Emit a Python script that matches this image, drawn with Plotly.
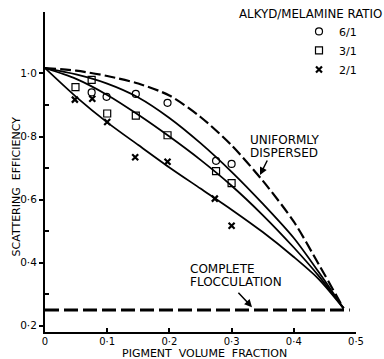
import plotly.graph_objects as go

# ---- data ----
x_grid = [0, 0.05, 0.10, 0.15, 0.20, 0.25, 0.30, 0.35, 0.40, 0.44, 0.48]
uniform_y = [1.017, 1.009, 0.992, 0.968, 0.93, 0.862, 0.772, 0.66, 0.53, 0.395, 0.255]
curve_61_y = [1.017, 0.997, 0.968, 0.924, 0.859, 0.779, 0.688, 0.587, 0.478, 0.37, 0.255]
curve_31_y = [1.017, 0.983, 0.932, 0.869, 0.800, 0.726, 0.644, 0.551, 0.448, 0.358, 0.255]
curve_21_y = [1.017, 0.926, 0.845, 0.773, 0.702, 0.635, 0.568, 0.497, 0.418, 0.348, 0.255]

floc_x = [0, 0.49]
floc_y = [0.25, 0.25]

pts_61_x = [0.075, 0.099, 0.146, 0.197, 0.275, 0.30]
pts_61_y = [0.94, 0.926, 0.935, 0.907, 0.723, 0.713]
pts_31_x = [0.049, 0.075, 0.10, 0.146, 0.197, 0.275, 0.30]
pts_31_y = [0.957, 0.98, 0.873, 0.866, 0.804, 0.69, 0.652]
pts_21_x = [0.048, 0.076, 0.10, 0.145, 0.197, 0.273, 0.30]
pts_21_y = [0.917, 0.92, 0.846, 0.734, 0.72, 0.603, 0.517]

x_ticks = [0, 0.1, 0.2, 0.3, 0.4, 0.5]
x_labels = ["0", "0·1", "0·2", "0·3", "0·4", "0·5"]
y_ticks = [0.2, 0.4, 0.6, 0.8, 1.0]
y_labels = ["0·2", "0·4", "0·6", "0·8", "1·0"]
y_minor = [0.3, 0.5, 0.7, 0.9]

# ---- figure ----
W, H = 384, 359
L, R, T, B = 45, 28, 12, 25
PW, PH = W - L - R, H - T - B


def px_x(p):
    return (p - L) / PW


def px_y(p):
    return (H - B - p) / PH


fig = go.Figure()
fig.add_trace(go.Scatter(x=floc_x, y=floc_y, mode="lines",
                         line=dict(color="black", width=3, dash="14px,5px"),
                         showlegend=False, hoverinfo="skip"))
fig.add_trace(go.Scatter(x=x_grid, y=uniform_y, mode="lines",
                         line=dict(color="black", width=2.2, dash="11px,4px",
                                   shape="spline", smoothing=0.8),
                         showlegend=False, hoverinfo="skip"))
for ys in (curve_61_y, curve_31_y, curve_21_y):
    fig.add_trace(go.Scatter(x=x_grid, y=ys, mode="lines",
                             line=dict(color="black", width=1.8, shape="spline", smoothing=0.8),
                             showlegend=False, hoverinfo="skip"))

fig.add_trace(go.Scatter(x=pts_61_x, y=pts_61_y, mode="markers", name="6/1",
                         marker=dict(symbol="circle-open", size=7, color="black",
                                     line=dict(width=1.2, color="black"))))
fig.add_trace(go.Scatter(x=pts_31_x, y=pts_31_y, mode="markers", name="3/1",
                         marker=dict(symbol="square-open", size=7, color="black",
                                     line=dict(width=1.2, color="black"))))
fig.add_trace(go.Scatter(x=pts_21_x, y=pts_21_y, mode="markers", name="2/1",
                         marker=dict(symbol="x-thin-open", size=6, color="black",
                                     line=dict(width=2.2, color="black"))))

fig.update_layout(
    width=W, height=H,
    margin=dict(l=L, r=R, t=T, b=B, pad=0),
    paper_bgcolor="white", plot_bgcolor="white",
    font=dict(family="DejaVu Sans", color="black", size=11),
    showlegend=True,
    legend=dict(x=px_x(299), y=px_y(17), xanchor="left", yanchor="top",
                bgcolor="rgba(0,0,0,0)", font=dict(size=11), itemwidth=30,
                tracegroupgap=0),
    xaxis=dict(range=[0, 0.5], tickmode="array", tickvals=x_ticks, ticktext=x_labels,
               ticks="inside", ticklen=4, tickwidth=1.5, tickcolor="black",
               ticklabelstandoff=-1,
               showline=True, linewidth=2, linecolor="black",
               showgrid=False, zeroline=False, tickfont=dict(size=10)),
    yaxis=dict(range=[0.18, 1.195], tickmode="array", tickvals=y_ticks, ticktext=y_labels,
               ticks="outside", ticklen=4, tickwidth=1.5, tickcolor="black",
               showline=True, linewidth=2, linecolor="black",
               showgrid=False, zeroline=False, tickfont=dict(size=10.5),
               minor=dict(tickmode="array", tickvals=y_minor, ticks="inside", ticklen=4,
                          tickwidth=1.5, tickcolor="black", showgrid=False)),
)

ann = []
ann.append(dict(text="ALKYD/MELAMINE RATIO", xref="paper", yref="paper",
                x=px_x(384), y=px_y(14.5), xanchor="right", yanchor="middle",
                showarrow=False, font=dict(size=11.8)))
ann.append(dict(text="PIGMENT  VOLUME  FRACTION", xref="paper", yref="paper",
                x=px_x(204), y=px_y(356), xanchor="center", yanchor="middle",
                showarrow=False, font=dict(size=11)))
ann.append(dict(text="SCATTERING  EFFICIENCY", xref="paper", yref="paper",
                x=px_x(16.5), y=px_y(188), xanchor="center", yanchor="middle",
                textangle=-90, showarrow=False, font=dict(size=11)))
ann.append(dict(text="UNIFORMLY", xref="paper", yref="paper",
                x=px_x(248), y=px_y(140.5), xanchor="left", yanchor="middle",
                showarrow=False, font=dict(size=12)))
ann.append(dict(text="DISPERSED", xref="paper", yref="paper",
                x=px_x(248), y=px_y(153.5), xanchor="left", yanchor="middle",
                showarrow=False, font=dict(size=12)))
ann.append(dict(text="COMPLETE", xref="paper", yref="paper",
                x=px_x(188), y=px_y(270.5), xanchor="left", yanchor="middle",
                showarrow=False, font=dict(size=12)))
ann.append(dict(text="FLOCCULATION", xref="paper", yref="paper",
                x=px_x(188), y=px_y(283.5), xanchor="left", yanchor="middle",
                showarrow=False, font=dict(size=12)))
# arrows
ann.append(dict(text="", xref="paper", yref="paper", x=px_x(260), y=px_y(176),
                ax=8, ay=-16, axref="pixel", ayref="pixel", showarrow=True,
                arrowhead=2, arrowsize=1, arrowwidth=1.5, arrowcolor="black"))
ann.append(dict(text="", xref="paper", yref="paper", x=px_x(252), y=px_y(309),
                ax=-15, ay=-16, axref="pixel", ayref="pixel", showarrow=True,
                arrowhead=2, arrowsize=1, arrowwidth=1.5, arrowcolor="black"))
fig.update_layout(annotations=ann)

fig.write_html("out.html")
